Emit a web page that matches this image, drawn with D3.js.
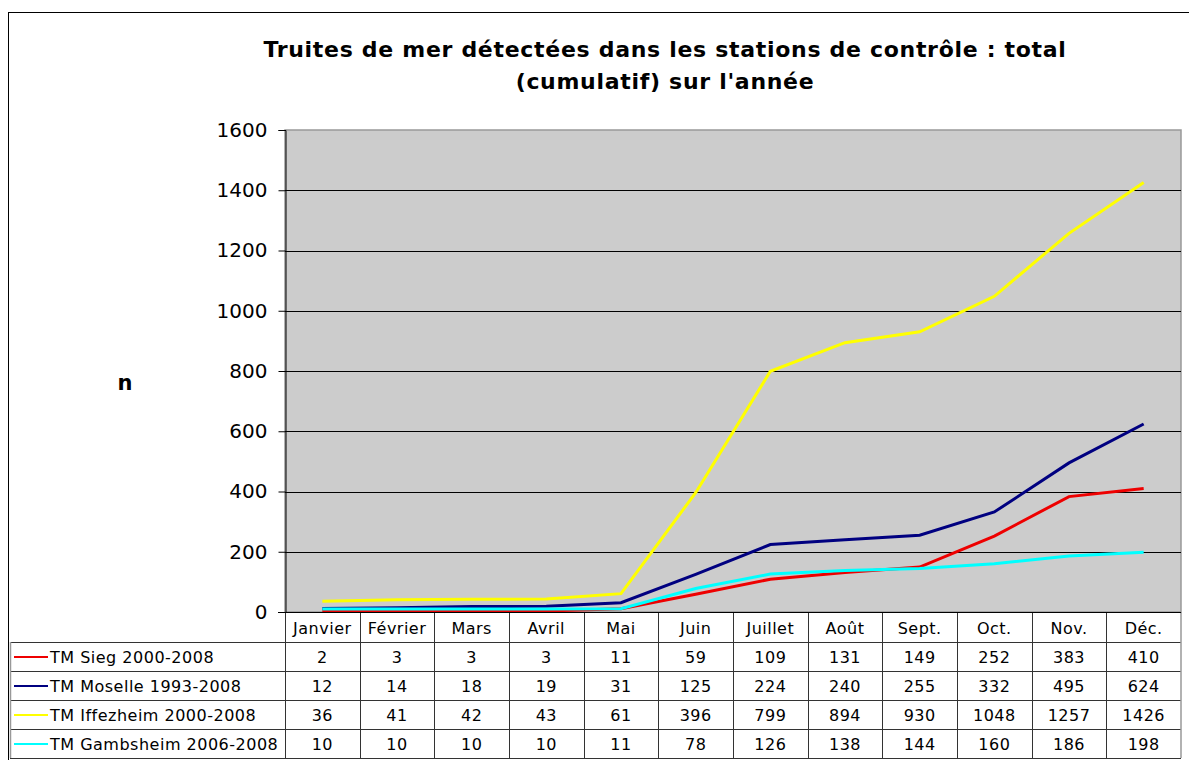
<!DOCTYPE html>
<html>
<head>
<meta charset="utf-8">
<script src="https://cdn.jsdelivr.net/npm/d3@7"></script>
<style>
  body { margin: 0; background: #fff; }
  svg { display: block; font-family: "DejaVu Sans", Verdana, sans-serif; }
</style>
</head>
<body>
<svg id="chart"></svg>
<script>
const months = ['Janvier','Février','Mars','Avril','Mai','Juin','Juillet','Août','Sept.','Oct.','Nov.','Déc.']

const sieg = [2,3,3,3,11,59,109,131,149,252,383,410]
const moselle = [12,14,18,19,31,125,224,240,255,332,495,624]
const iffezheim = [36,41,42,43,61,396,799,894,930,1048,1257,1426]
const gambsheim = [10,10,10,10,11,78,126,138,144,160,186,198]

const seriesNames = ['TM Sieg 2000-2008','TM Moselle 1993-2008','TM Iffezheim 2000-2008','TM Gambsheim 2006-2008']
const seriesColors = ['#ee0000','#000080','#ffff00','#00ffff']
const yTicks = [0,200,400,600,800,1000,1200,1400,1600]

const series = [sieg, moselle, iffezheim, gambsheim].map((vals,i) => ({
    name: seriesNames[i], color: seriesColors[i], values: vals
}))

const svgWidth = 1189
const svgHeight = 760
const plotLeft = 285, plotRight = 1181, plotTop = 130, plotBottom = 612
const rowH = 29
const cellFont = 16, cellSpacing = 0.5

const svg = d3.select('#chart').attr('width',svgWidth).attr('height',svgHeight)

// outer frame
svg.append('rect')
  .attr('x',8.5).attr('y',12.5).attr('width',1200).attr('height',800)
  .attr('fill','none').attr('stroke','#000').attr('stroke-width',1)

// title
const title = svg.append('text')
  .attr('text-anchor','middle')
  .attr('font-weight','bold').attr('font-size',22)
  .attr('letter-spacing',0.7)
title.append('tspan').attr('x',665).attr('y',57).text('Truites de mer détectées dans les stations de contrôle : total')
title.append('tspan').attr('x',665).attr('y',89).text("(cumulatif) sur l'année")

const xScale = d3.scaleBand().domain(months).range([plotLeft,plotRight])
const yScale = d3.scaleLinear().domain([0,1600]).range([plotBottom,plotTop])

// plot background
svg.append('rect')
  .attr('x',plotLeft).attr('y',plotTop)
  .attr('width',plotRight-plotLeft).attr('height',plotBottom-plotTop)
  .attr('fill','#cccccc').attr('stroke','#999').attr('stroke-width',1.5)

// grid
svg.append('g').selectAll('line')
  .data(yTicks.filter(d => d > 0 && d < 1600))
  .enter().append('line')
  .attr('x1',plotLeft).attr('x2',plotRight)
  .attr('y1',d => Math.round(yScale(d))+0.5).attr('y2',d => Math.round(yScale(d))+0.5)
  .attr('stroke','#000').attr('stroke-width',1)

// y axis
const yAxis = d3.axisLeft(yScale).tickValues(yTicks).tickFormat(d3.format('d')).tickSize(7).tickPadding(11)
const yg = svg.append('g')
  .attr('transform','translate(' + (plotLeft+0.5) + ',0)')
  .call(yAxis)
yg.select('.domain').attr('stroke','#000')
yg.selectAll('text').attr('font-size',20).attr('fill','#000')
  .style('font-family','"DejaVu Sans", Verdana, sans-serif')

svg.append('text')
  .attr('x',125).attr('y',390)
  .attr('text-anchor','middle')
  .attr('font-weight','bold').attr('font-size',21)
  .text('n')

// lines
const line = d3.line()
  .x((d,i) => xScale(months[i]) + xScale.bandwidth()/2)
  .y(d => yScale(d))

svg.append('g').selectAll('path')
  .data(series)
  .enter().append('path')
  .attr('d',d => line(d.values))
  .attr('fill','none')
  .attr('stroke',d => d.color)
  .attr('stroke-width',3)

// data table
const table = svg.append('g')
  .attr('font-size',cellFont)
  .attr('letter-spacing',cellSpacing)
const tableTop = plotBottom
const headerH = 30
const tableLeft = 10

// header cells
table.selectAll('.hdr')
  .data(months)
  .enter().append('text')
  .attr('class','hdr')
  .attr('x',d => xScale(d) + xScale.bandwidth()/2)
  .attr('y',tableTop + 22)
  .attr('text-anchor','middle')
  .text(d => d)

// rows
series.forEach((s,r) => {
    const y0 = tableTop + headerH + r*rowH
    table.append('line')
      .attr('x1',14).attr('x2',48)
      .attr('y1',y0 + rowH/2 + 0.5).attr('y2',y0 + rowH/2 + 0.5)
      .attr('stroke',s.color).attr('stroke-width',2)
    table.append('text')
      .attr('x',50).attr('y',y0 + 21)
      .text(s.name)
    table.selectAll('.v' + r)
      .data(s.values)
      .enter().append('text')
      .attr('x',(d,i) => xScale(months[i]) + xScale.bandwidth()/2)
      .attr('y',y0 + 21)
      .attr('text-anchor','middle')
      .text(d => d)
})

// table grid
const tableBottom = tableTop + headerH + 4*rowH
const hLines = [tableTop + headerH]
for (let r = 1; r <= 4; r++) hLines.push(tableTop + headerH + r*rowH)
table.selectAll('.hl')
  .data(hLines)
  .enter().append('line')
  .attr('x1',tableLeft).attr('x2',plotRight)
  .attr('y1',d => d+0.5).attr('y2',d => d+0.5)
  .attr('stroke','#333').attr('stroke-width',1)
table.selectAll('.vl')
  .data(months.slice(1))
  .enter().append('line')
  .attr('x1',d => Math.round(xScale(d))+0.5).attr('x2',d => Math.round(xScale(d))+0.5)
  .attr('y1',tableTop).attr('y2',tableBottom)
  .attr('stroke','#333').attr('stroke-width',1)
table.append('line')
  .attr('x1',plotLeft+0.5).attr('x2',plotLeft+0.5)
  .attr('y1',tableTop).attr('y2',tableBottom)
  .attr('stroke','#333')
table.append('line')
  .attr('x1',plotRight).attr('x2',plotRight)
  .attr('y1',tableTop).attr('y2',tableBottom)
  .attr('stroke','#999').attr('stroke-width',1.5)
table.append('line')
  .attr('x1',tableLeft+0.5).attr('x2',tableLeft+0.5)
  .attr('y1',tableTop + headerH).attr('y2',tableBottom)
  .attr('stroke','#999').attr('stroke-width',1.5)
// x-axis baseline
svg.append('line')
  .attr('x1',plotLeft-7).attr('x2',plotRight)
  .attr('y1',plotBottom+0.5).attr('y2',plotBottom+0.5)
  .attr('stroke','#000')
</script>
</body>
</html>
